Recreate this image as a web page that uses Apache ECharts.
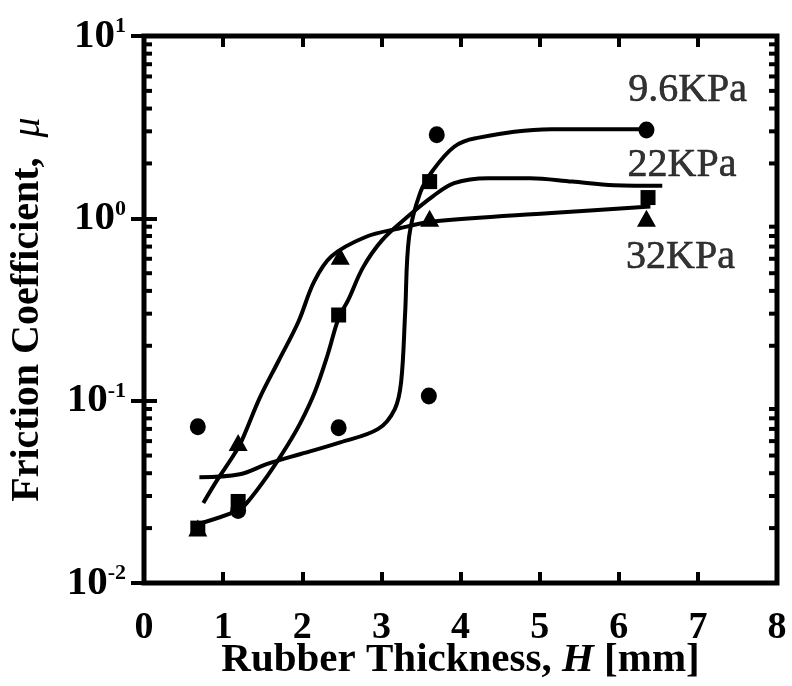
<!DOCTYPE html>
<html>
<head>
<meta charset="utf-8">
<script src="https://cdn.jsdelivr.net/npm/echarts@6/dist/echarts.min.js"></script>
<style>
  html, body { margin: 0; background: #fff; }
  #chart { width: 792px; height: 686px; }
</style>
</head>
<body>
<div id="chart"></div>
<script>
// measured points (H in mm, friction coefficient)
const circleX = [0.68, 1.19, 2.46, 3.6, 3.7, 6.35]
const circleY = [0.072, 0.025, 0.071, 0.106, 2.87, 3.05]
const squareX = [0.68, 1.19, 2.46, 3.61, 6.37]
const squareY = [0.020, 0.028, 0.295, 1.59, 1.30]
const triangleX = [0.68, 1.19, 2.48, 3.61, 6.35]
const triangleY = [0.020, 0.059, 0.62, 1.0, 1.0]

// fitted curves
const curve96X = [0.70, 1.21, 1.56, 1.98, 2.48, 2.96, 3.17, 3.25, 3.30, 3.35, 3.49, 3.65, 3.92, 4.19, 5.15, 6.21, 6.35]
const curve96Y = [0.038, 0.0395, 0.045, 0.051, 0.059, 0.070, 0.090, 0.127, 0.30, 0.79, 1.38, 1.83, 2.47, 2.75, 3.08, 3.08, 3.08]
const curve22X = [0.68, 1.19, 1.30, 1.56, 1.81, 1.98, 2.16, 2.32, 2.46, 2.58, 2.77, 3.01, 3.33, 3.65, 3.92, 4.35, 4.88, 5.41, 5.94, 6.55]
const curve22Y = [0.021, 0.025, 0.0275, 0.0387, 0.0566, 0.076, 0.112, 0.178, 0.284, 0.356, 0.54, 0.76, 1.02, 1.32, 1.56, 1.66, 1.66, 1.59, 1.52, 1.51]
const curve32X = [0.75, 0.93, 1.13, 1.24, 1.46, 1.70, 1.95, 2.15, 2.37, 2.80, 3.22, 3.65, 5.15, 6.40]
const curve32Y = [0.0275, 0.037, 0.050, 0.061, 0.103, 0.165, 0.27, 0.45, 0.62, 0.79, 0.88, 0.96, 1.07, 1.16]

// pressure annotations
const pressureNames = ['9.6KPa', '22KPa', '32KPa']
const pressureX = [6.87, 6.80, 6.78]
const pressureY = [5.0, 1.96, 0.607]

// axis ticks
const yTickExps = ['-2', '-1', '0', '1']
const minorTickValues = [
  0.02, 0.03, 0.04, 0.05, 0.06, 0.07, 0.08, 0.09,
  0.2, 0.3, 0.4, 0.5, 0.6, 0.7, 0.8, 0.9,
  2, 3, 4, 5, 6, 7, 8, 9,
]

const serif = 'Liberation Serif, Times New Roman, serif'
const zip = (xs, ys) => xs.map((x, i) => [x, ys[i]])

function curve(xs, ys) {
  return {
    type: 'line',
    data: zip(xs, ys),
    smooth: 0.35,
    showSymbol: false,
    silent: true,
    lineStyle: { color: '#000', width: 4 },
    z: 3,
  }
}

function markers(xs, ys, symbol, size) {
  return {
    type: 'scatter',
    data: zip(xs, ys),
    symbol,
    symbolSize: size,
    silent: true,
    itemStyle: { color: '#000', opacity: 1 },
    z: 4,
  }
}

const chart = echarts.init(document.getElementById('chart'), null, { renderer: 'canvas' })

const tickStyle = { show: true, inside: true, lineStyle: { color: '#000', width: 4 } }

chart.setOption({
  animation: false,
  backgroundColor: '#fff',
  grid: {
    left: 144, right: 15, top: 36, bottom: 103,
    outerBoundsMode: 'none',
    containLabel: false,
    show: true, borderColor: '#000', borderWidth: 5, backgroundColor: 'transparent',
  },
  xAxis: [
    {
      type: 'value', min: 0, max: 8, interval: 1, position: 'bottom',
      axisLine: { show: false },
      axisTick: { ...tickStyle, length: 11 },
      splitLine: { show: false },
      axisLabel: { color: '#000', fontFamily: serif, fontWeight: 'bold', fontSize: 38, margin: 26 },
      name: 'Rubber Thickness, {i|H} [mm]',
      nameLocation: 'middle',
      nameGap: 57,
      nameMoveOverlap: false,
      nameTextStyle: {
        color: '#000', fontFamily: serif, fontWeight: 'bold', fontSize: 41,
        rich: { i: { fontFamily: serif, fontWeight: 'bold', fontStyle: 'italic', fontSize: 41, color: '#000' } },
      },
    },
    {
      type: 'value', min: 0, max: 8, interval: 1, position: 'top',
      axisLine: { show: false },
      axisTick: { ...tickStyle, length: 11 },
      splitLine: { show: false },
      axisLabel: { show: false },
    },
  ],
  yAxis: [
    {
      type: 'log', logBase: 10, min: 0.01, max: 10, position: 'left',
      axisLine: { show: false },
      axisTick: { ...tickStyle, length: 13 },
      splitLine: { show: false },
      minorTick: { show: false },
      axisLabel: {
        margin: 18,
        formatter: (value, index) => '{b|10}{s|' + yTickExps[index] + '}',
        rich: {
          b: { color: '#000', fontFamily: serif, fontWeight: 'bold', fontSize: 41 },
          s: { color: '#000', fontFamily: serif, fontWeight: 'bold', fontSize: 22, verticalAlign: 'top' },
        },
      },
      name: 'Friction Coefficient,  {mu|μ}',
      nameLocation: 'middle',
      nameGap: 96,
      nameMoveOverlap: false,
      nameTextStyle: {
        color: '#000', fontFamily: serif, fontWeight: 'bold', fontSize: 40,
        rich: { mu: { fontFamily: serif, fontStyle: 'italic', fontWeight: 'normal', fontSize: 40, color: '#000' } },
      },
    },
    {
      type: 'log', logBase: 10, min: 0.01, max: 10, position: 'right',
      axisLine: { show: false },
      axisTick: { ...tickStyle, length: 13 },
      splitLine: { show: false },
      axisLabel: { show: false },
    },
  ],
  series: [
    {
      // minor log ticks on left and right frame
      type: 'custom',
      silent: true,
      data: minorTickValues.map((v) => [0, v]),
      renderItem(params, api) {
        const v = api.value(1)
        const l = api.coord([0, v])
        const r = api.coord([8, v])
        const style = { stroke: '#000', lineWidth: 4 }
        return {
          type: 'group',
          children: [
            { type: 'line', shape: { x1: l[0], y1: l[1], x2: l[0] + 8, y2: l[1] }, style },
            { type: 'line', shape: { x1: r[0] - 8, y1: r[1], x2: r[0], y2: r[1] }, style },
          ],
        }
      },
      z: 2,
    },
    curve(curve96X, curve96Y),
    curve(curve22X, curve22Y),
    curve(curve32X, curve32Y),
    markers(circleX, circleY, 'circle', [16, 17]),
    markers(squareX, squareY, 'rect', 15),
    markers(triangleX, triangleY, 'triangle', [19, 17]),
    {
      type: 'scatter',
      silent: true,
      symbolSize: 1,
      itemStyle: { color: 'transparent' },
      data: pressureNames.map((n, i) => ({ name: n, value: [pressureX[i], pressureY[i]] })),
      label: {
        show: true,
        position: 'inside',
        formatter: (p) => p.name,
        color: '#000',
        textBorderColor: '#000',
        textBorderWidth: 0.6,
        fontFamily: serif,
        fontSize: 40,
      },
      z: 5,
    },
  ],
})
</script>
</body>
</html>
